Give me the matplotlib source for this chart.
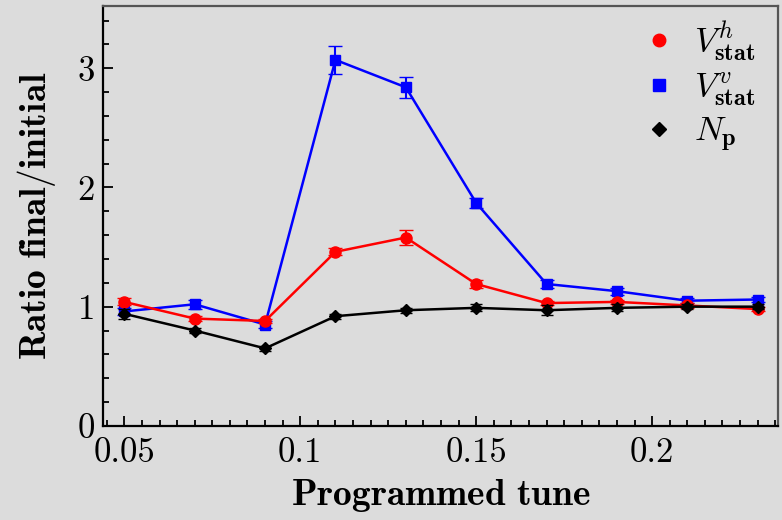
import matplotlib
matplotlib.use("Agg")
import matplotlib.pyplot as plt
from matplotlib.lines import Line2D
from matplotlib.ticker import MultipleLocator

# data
tune = [0.05, 0.07, 0.09, 0.11, 0.13, 0.15, 0.17, 0.19, 0.21, 0.23]
vh = [1.04, 0.90, 0.88, 1.46, 1.58, 1.19, 1.03, 1.04, 1.01, 0.98]
vh_err = [0.03, 0.02, 0.02, 0.03, 0.06, 0.03, 0.02, 0.02, 0.02, 0.02]
vv = [0.96, 1.02, 0.85, 3.07, 2.84, 1.87, 1.19, 1.13, 1.05, 1.06]
vv_err = [0.03, 0.04, 0.03, 0.12, 0.09, 0.04, 0.03, 0.03, 0.02, 0.02]
npart = [0.94, 0.80, 0.65, 0.92, 0.97, 0.99, 0.97, 0.99, 1.00, 1.00]
np_err = [0.04, 0.02, 0.02, 0.02, 0.02, 0.03, 0.04, 0.03, 0.02, 0.02]

plt.rcParams['mathtext.fontset'] = 'cm'
plt.rcParams['font.family'] = 'cmr10'
plt.rcParams['axes.formatter.use_mathtext'] = True

bg = '#dcdcdc'
fig = plt.figure(figsize=(7.82, 5.2), dpi=100, facecolor=bg)
ax = fig.add_axes([0.132, 0.181, 0.863, 0.807], facecolor=bg)

ax.errorbar(tune, vh, yerr=vh_err, color='red', marker='o', ms=8, lw=1.8,
            capsize=5, elinewidth=1.5, zorder=3)
ax.errorbar(tune, vv, yerr=vv_err, color='blue', marker='s', ms=7.5, lw=1.8,
            capsize=5, elinewidth=1.5, zorder=2)
ax.errorbar(tune, npart, yerr=np_err, color='black', marker='D', ms=6.5, lw=1.8,
            capsize=4, elinewidth=1.5, zorder=4)

ax.set_xlim(0.044, 0.2358)
ax.set_ylim(0, 3.52)
ax.xaxis.set_minor_locator(MultipleLocator(0.005))
ax.yaxis.set_minor_locator(MultipleLocator(0.2))
ax.set_xticks([0.05, 0.1, 0.15, 0.2])
ax.set_xticklabels(['0.05', '0.1', '0.15', '0.2'])
ax.set_yticks([0, 1, 2, 3])
ax.set_yticklabels(['0', '1', '2', '3'])
ax.tick_params(which='both', direction='in', top=False, right=False, width=1.3)
ax.tick_params(axis='x', labelsize=25, pad=8)
ax.tick_params(axis='y', labelsize=25, pad=6)
ax.tick_params(which='major', length=7)
ax.tick_params(which='minor', length=4)
for s in ['left', 'bottom']:
    ax.spines[s].set_linewidth(1.6)
for s in ['top', 'right']:
    ax.spines[s].set_linewidth(1.6)
    ax.spines[s].set_color('#555555')

ax.set_xlabel(r'$\mathbf{Programmed\ tune}$', fontsize=27, labelpad=6)
ax.set_ylabel(r'$\mathbf{Ratio\ final/initial}$', fontsize=27, labelpad=14)

handles = [
    Line2D([], [], ls='none', color='red', marker='o', ms=9),
    Line2D([], [], ls='none', color='blue', marker='s', ms=8),
    Line2D([], [], ls='none', color='black', marker='D', ms=7),
]
labels = [r'$V^{h}_{\mathbf{stat}}$', r'$V^{v}_{\mathbf{stat}}$', r'$N_{\mathbf{p}}$']
ax.legend(handles, labels, loc='upper right', bbox_to_anchor=(0.986, 1.003),
          frameon=False, fontsize=25, handlelength=0.6, handletextpad=0.7,
          labelspacing=0.22, borderaxespad=0.0)

fig.savefig('out.png', dpi=100, facecolor=bg)
